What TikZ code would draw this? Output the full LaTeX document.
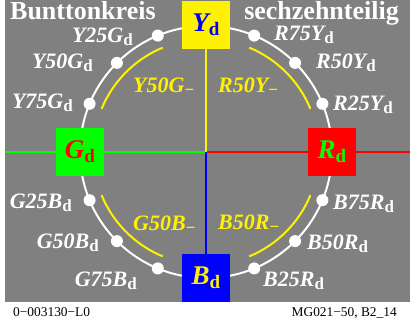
\documentclass[tikz,border=0pt]{standalone}
\usepackage{fontspec}
\setmainfont{Liberation Serif}
\definecolor{bg}{RGB}{128,128,128}
\definecolor{gn}{RGB}{0,255,0}
\newcommand{\subd}[2][17]{\raisebox{-#2pt}{\fontsize{#1}{#1}\selectfont\upshape d}}
\newcommand{\subm}{\raisebox{-3pt}{\fontsize{17}{17}\selectfont\upshape −}}

\begin{document}
\begin{tikzpicture}[x=1pt,y=1pt,
hue/.style={%
minimum size=48pt,
inner sep=0pt,
font=\fontsize{27}{27}\selectfont\bfseries\itshape
},
dot/.style={%
circle,
fill=white,
inner sep=0pt,
minimum size=12pt
},
tone/.style={%
text=white,
inner sep=0pt,
font=\fontsize{22}{22}\selectfont\bfseries\itshape
},
mid/.style={%
text=yellow,
inner sep=0pt,
anchor=base west,
font=\fontsize{22}{22}\selectfont\bfseries\itshape
},
title/.style={%
text=white,
inner sep=0pt,
font=\fontsize{26}{26}\selectfont\bfseries
},
foot/.style={%
inner sep=0pt,
font=\fontsize{13.4}{13.4}\selectfont
},
]
\useasboundingbox(-206,-173)rectangle(207,152);
\fill[bg](-201,-150)rectangle(204,152);
%% axes
\coordinate(o)at(0,0);
\coordinate(w)at(-201,0);
\coordinate(e)at(204,0);
\coordinate(n)at(0,110);
\coordinate(s)at(0,-110);
\draw[gn,line width=2pt](w)--(o);
\draw[red,line width=2pt](o)--(e);
\draw[yellow,line width=2pt](o)--(n);
\draw[blue,line width=2pt](o)--(s);
%% circle
\draw[white,line width=2pt](o)circle(126);
\foreach \a in {22.5,112.5,202.5,292.5}
\draw[yellow,line width=2pt](\a:113)arc(\a:\a+45:113);
\foreach \a/\n in {22.5/r25y,45/r50y,67.5/r75y,112.5/y25g,135/y50g,157.5/y75g,
202.5/g25b,225/g50b,247.5/g75b,292.5/b25r,315/b50r,337.5/b75r}
\node[dot](\n)at(\a:126){};
%% boxes
\node[hue,fill=yellow,text=blue](Y)at(90:127){Y\subd[19]{4}};
\node[hue,fill=gn,text=red](G)at(180:126){G\subd[19]{4}};
\node[hue,fill=red,text=gn](R)at(0:126){R\subd[19]{4}};
\node[hue,fill=blue,text=yellow](B)at(270:126){B\subd[19]{4}};
%% tones
\node[tone,anchor=base east](ly25g)at(-73,110){Y25G\subd{3}};
\node[tone,anchor=base east](ly50g)at(-113,84){Y50G\subd{3}};
\node[tone,anchor=base east](ly75g)at(-133,44){Y75G\subd{3}};
\node[tone,anchor=base west](lr75y)at(68,112){R75Y\subd{3}};
\node[tone,anchor=base west](lr50y)at(110,84){R50Y\subd{3}};
\node[tone,anchor=base west](lr25y)at(127,42){R25Y\subd{3}};
\node[tone,anchor=base east](lg25b)at(-134,-56){G25B\subd{3}};
\node[tone,anchor=base east](lg50b)at(-107,-96){G50B\subd{3}};
\node[tone,anchor=base east](lg75b)at(-69,-134){G75B\subd{3}};
\node[tone,anchor=base west](lb75r)at(127,-57){B75R\subd{3}};
\node[tone,anchor=base west](lb50r)at(101,-97){B50R\subd{3}};
\node[tone,anchor=base west](lb25r)at(57,-134){B25R\subd{3}};
\node[mid](my50g)at(-73,60){Y50G\subm};
\node[mid](mr50y)at(12,60){R50Y\subm};
\node[mid](mg50b)at(-73,-78){G50B\subm};
\node[mid](mb50r)at(12,-77){B50R\subm};
%% titles
\node[title,anchor=base west](t1)at(-196,133){Bunttonkreis};
\node[title,anchor=base east](t2)at(193,133){sechzehnteilig};
\node[foot,anchor=base west](f1)at(-193,-164){0−003130−L0};
\node[foot,anchor=base east](f2)at(191,-164){MG021−50, B2\_14};
\end{tikzpicture}
\end{document}
